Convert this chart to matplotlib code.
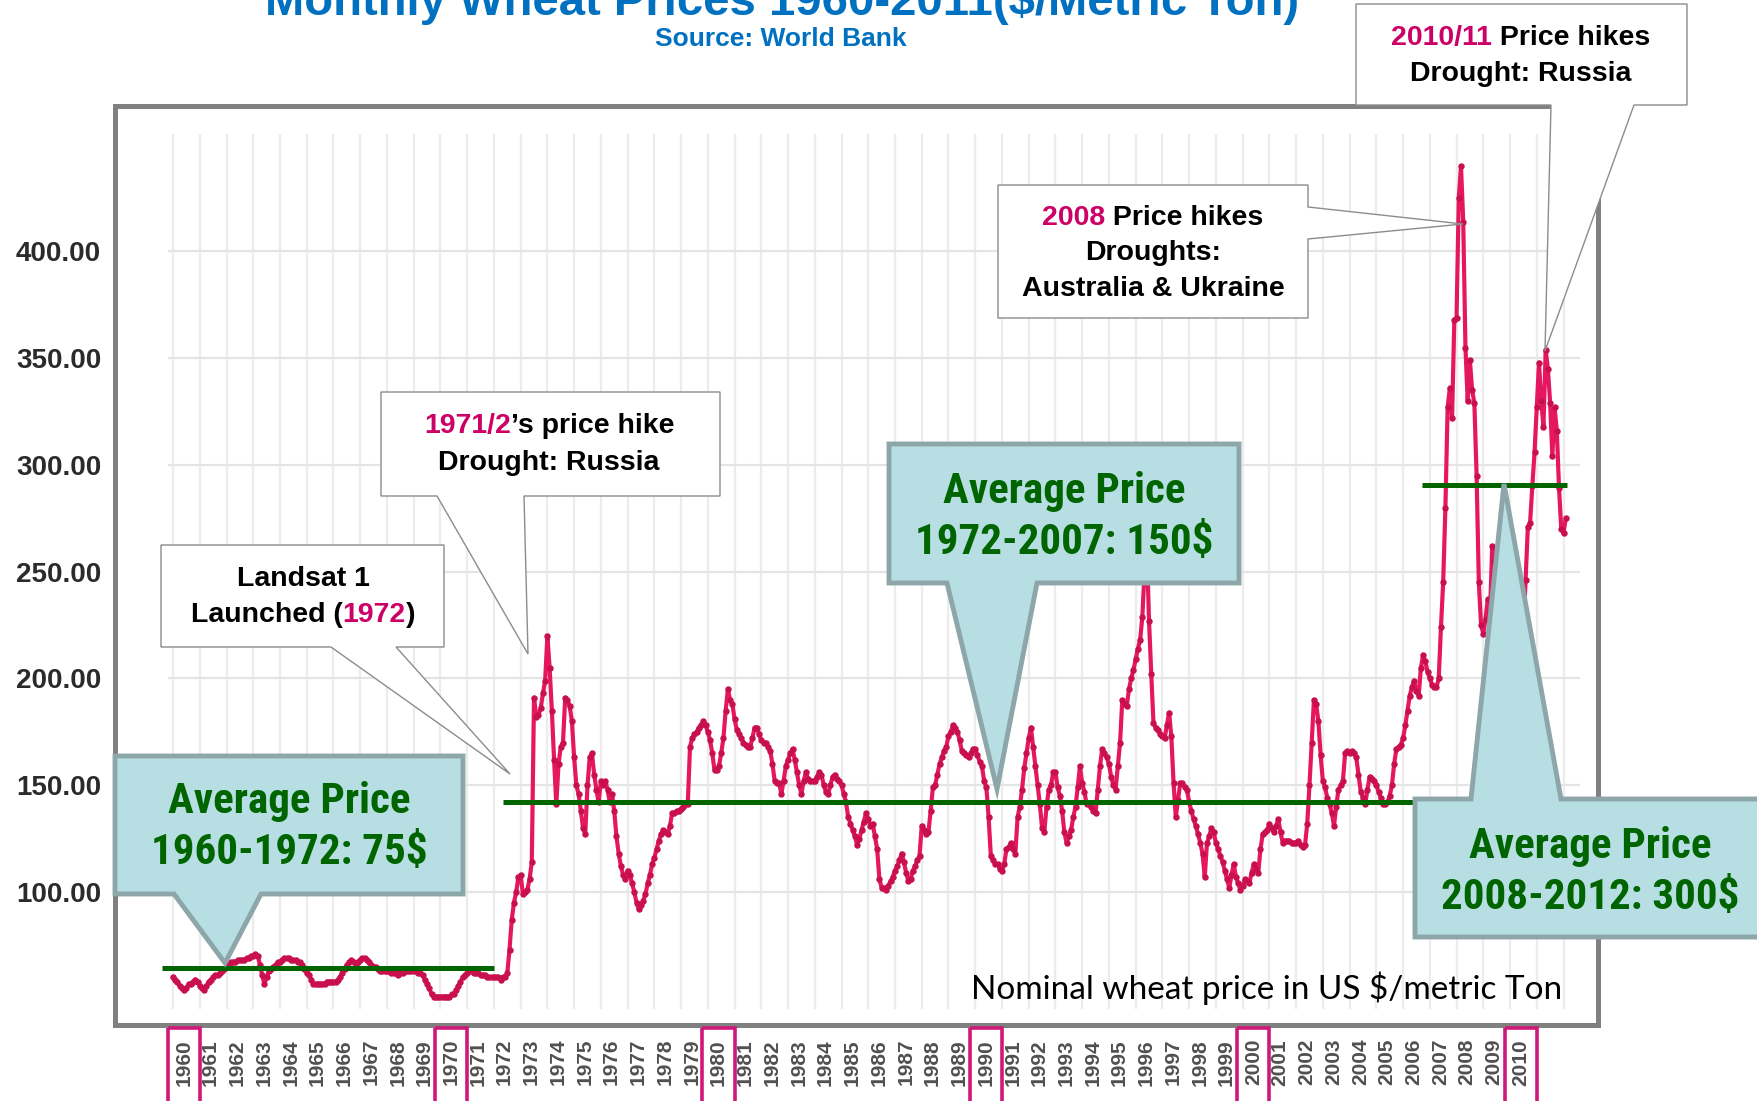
import numpy as np
import matplotlib
matplotlib.use("Agg")
import matplotlib.pyplot as plt
from matplotlib import font_manager
from matplotlib.font_manager import FontProperties
from matplotlib.patches import Polygon, Rectangle
from matplotlib.transforms import blended_transform_factory
from matplotlib.offsetbox import TextArea, HPacker, AnnotationBbox

plt.rcParams['font.family'] = ['Liberation Sans', 'DejaVu Sans']

W, H = 1758, 1101

# monthly nominal wheat price ($/t), Jan 1960 onwards, one row per year
prices = [
    60, 59, 58, 56, 55, 54, 55, 57, 57, 58, 59, 58,          # 1960
    56, 55, 54, 56, 58, 59, 60, 61, 61, 62, 63, 64,          # 1961
    65, 66, 67, 67, 67, 68, 68, 68, 68, 69, 69, 70,          # 1962
    70, 71, 70, 66, 61, 57, 60, 63, 64, 65, 66, 67,          # 1963
    67, 68, 69, 69, 69, 68, 68, 68, 67, 67, 66, 64,          # 1964
    62, 61, 59, 57, 57, 57, 57, 57, 57, 58, 58, 58,          # 1965
    58, 58, 59, 60, 62, 64, 66, 67, 68, 67, 66, 67,          # 1966
    68, 69, 69, 68, 67, 66, 65, 65, 64, 63, 63, 63,          # 1967
    63, 63, 62, 62, 62, 61, 62, 62, 63, 63, 63, 63,          # 1968
    63, 63, 62, 62, 61, 59, 57, 55, 52, 51, 51, 51,          # 1969
    51, 51, 51, 51, 51, 52, 52, 54, 56, 58, 60, 61,          # 1970
    62, 63, 63, 62, 62, 62, 61, 61, 61, 60, 60, 60,          # 1971
    60, 60, 60, 59, 60, 60, 62, 73, 87, 95, 100, 107,        # 1972
    108, 99, 100, 101, 106, 114, 191, 182, 183, 186, 193, 199,   # 1973
    220, 205, 185, 162, 141, 160, 168, 170, 191, 190, 187, 180,  # 1974
    163, 150, 146, 138, 130, 127, 150, 163, 165, 155, 148, 142,  # 1975
    152, 150, 152, 148, 142, 146, 138, 126, 118, 112, 108, 106,  # 1976
    110, 108, 104, 100, 95, 92, 94, 96, 99, 104, 108, 113,       # 1977
    116, 120, 124, 127, 129, 128, 127, 131, 137, 137, 138, 138,  # 1978
    139, 140, 141, 141, 168, 172, 174, 175, 177, 178, 180, 178,  # 1979
    175, 171, 165, 157, 157, 159, 165, 172, 185, 195, 190, 188,  # 1980
    181, 176, 174, 172, 170, 169, 168, 168, 172, 177, 177, 174,  # 1981
    171, 170, 170, 168, 166, 160, 152, 151, 151, 146, 152, 159,  # 1982
    162, 165, 167, 162, 156, 150, 146, 152, 156, 153, 152, 152,  # 1983
    152, 154, 156, 155, 150, 147, 146, 150, 154, 155, 153, 152,  # 1984
    150, 146, 142, 135, 132, 129, 126, 122, 125, 129, 133, 137,  # 1985
    134, 131, 132, 126, 120, 106, 102, 102, 101, 103, 105, 107,  # 1986
    110, 112, 115, 118, 114, 109, 105, 106, 110, 112, 115, 117,  # 1987
    131, 129, 127, 128, 138, 149, 150, 155, 160, 163, 166, 168,  # 1988
    173, 175, 178, 177, 175, 171, 166, 165, 164, 163, 165, 167,  # 1989
    167, 164, 161, 159, 152, 149, 135, 117, 115, 113, 113, 111,  # 1990
    110, 113, 120, 121, 123, 120, 118, 135, 140, 148, 158, 165,  # 1991
    172, 177, 168, 159, 150, 141, 130, 128, 140, 148, 150, 156,  # 1992
    156, 149, 145, 138, 128, 123, 126, 129, 135, 140, 149, 159,  # 1993
    151, 147, 141, 141, 140, 138, 137, 148, 159, 167, 165, 163,  # 1994
    160, 154, 150, 148, 159, 170, 190, 188, 187, 195, 200, 204,  # 1995
    209, 214, 218, 229, 251, 262, 227, 202, 179, 177, 176, 174,  # 1996
    173, 172, 178, 184, 173, 151, 135, 143, 151, 151, 149, 148,  # 1997
    142, 138, 134, 131, 127, 123, 118, 107, 123, 126, 130, 128,  # 1998
    123, 120, 117, 114, 110, 106, 102, 108, 113, 107, 104, 101,  # 1999
    103, 106, 105, 104, 109, 113, 111, 109, 120, 127, 128, 129,  # 2000
    132, 130, 128, 131, 134, 128, 123, 124, 124, 124, 123, 123,  # 2001
    123, 124, 122, 121, 122, 132, 150, 170, 190, 188, 180, 164,  # 2002
    152, 149, 144, 141, 137, 131, 140, 148, 150, 152, 165, 166,  # 2003
    165, 166, 165, 163, 155, 147, 144, 141, 148, 154, 153, 152,  # 2004
    150, 147, 144, 141, 141, 142, 145, 150, 160, 167, 168, 169,  # 2005
    172, 178, 185, 192, 196, 199, 194, 192, 205, 211, 208, 203,  # 2006
    200, 197, 196, 196, 200, 224, 245, 280, 327, 336, 322, 368,  # 2007
    369, 425, 440, 414, 355, 330, 349, 335, 329, 295, 245, 225,  # 2008
    221, 228, 237, 230, 262, 255, 240, 228, 220, 226, 232, 228,  # 2009
    220, 212, 210, 206, 205, 200, 222, 246, 271, 273, 290, 306,  # 2010
    327, 348, 330, 318, 354, 345, 329, 304, 327, 316, 289, 270,  # 2011
    268, 275,                                                    # 2012
]
first_year = 1960

# average-price lines
avg_start = [1959.6, 1972.35, 2006.7]
avg_end = [1972.0, 2007.0, 2012.12]
avg_level = [64.6, 142.0, 290.5]

label_years = list(range(1960, 2011))
boxed_years = [1960, 1970, 1980, 1990, 2000, 2010]
y_ticks = [100, 150, 200, 250, 300, 350, 400]

PINK = '#E5175F'
MAGENTA = '#CC0066'
GREEN = '#006400'
BLUE = '#0070C0'


def find_narrow_bold():
    # look for a narrow/condensed bold face, best match first
    prefs = ['LiberationSansNarrow-Bold', 'ArialNarrow', 'RobotoCondensed-Bold',
             'OpenSansCondensed-Bold', 'DejaVuSansCondensed-Bold', 'NotoSans-CondensedBold']
    files = [f.fname for f in font_manager.fontManager.ttflist]
    for p in prefs:
        for fn in files:
            if p.lower() in fn.lower().replace('_', '').replace(' ', ''):
                return p, fn
    return None, None


narrow_key, narrow = find_narrow_bold()
if narrow:
    size = 34 if narrow_key in ('LiberationSansNarrow-Bold', 'ArialNarrow') else 31
    avg_fp = FontProperties(fname=narrow, size=size)
else:
    avg_fp = FontProperties(family='Liberation Sans', weight='bold', size=28)

names = {f.name for f in font_manager.fontManager.ttflist}
note_font = 'Lato' if 'Lato' in names else 'DejaVu Sans'

fig = plt.figure(figsize=(W / 100, H / 100), dpi=100)
fig.patch.set_facecolor('white')

# main chart, frame at pixels x 115..1598, y 106..1025
ax = fig.add_axes([115 / W, 1 - 1025 / H, (1598 - 115) / W, (1025 - 106) / H])
ax.set_xlim(1957.83, 2013.29)
ax.set_ylim(37.7, 468.15)
for s in ax.spines.values():
    s.set_color('#808080')
    s.set_linewidth(3.6)

ax.vlines(np.arange(1960, 2013), 45, 455, color='#ECECEC', lw=1.6, zorder=1)
ax.hlines(y_ticks, 1959.8, 2012.6, color='#E4E4E4', lw=1.6, zorder=1)

t = first_year + np.arange(len(prices)) / 12.0
ax.plot(t, prices, color=PINK, lw=3, marker='o', ms=3.6, mfc='#C8104F', mec='#C8104F',
        solid_joinstyle='round', zorder=3)
ax.hlines(avg_level, avg_start, avg_end, color=GREEN, lw=3.6, zorder=4)

ax.set_yticks(y_ticks, ['%.2f' % v for v in y_ticks])
ax.set_xticks(np.array(label_years) + 0.4, [str(y) for y in label_years])
ax.tick_params(axis='y', length=0, pad=10, labelsize=20, labelcolor='#2B2B2B')
ax.tick_params(axis='x', length=0, pad=10, labelsize=15, labelcolor='#505050',
               labelrotation=90)
for lab in ax.get_yticklabels() + ax.get_xticklabels():
    lab.set_fontweight('bold')

trans = blended_transform_factory(ax.transData, ax.transAxes)
for y in boxed_years:
    ax.add_patch(Rectangle((y + 0.4 - 0.6, -0.003), 1.2, -0.2, transform=trans,
                           fill=False, ec='#D0177A', lw=2.6, clip_on=False, zorder=5))

ax.text(0.9755, 0.04, 'Nominal wheat price in US $/metric Ton', transform=ax.transAxes,
        ha='right', va='center', fontsize=24, family=note_font, color='black', zorder=6)

# overlay in pixel coordinates for the callouts
ov = fig.add_axes([0, 0, 1, 1], zorder=10)
ov.set_xlim(0, W)
ov.set_ylim(H, 0)
ov.axis('off')


def callout(x0, y0, x1, y1, side, b1, b2, tip, fc, ec, lw):
    if side == 'bottom':
        verts = [(x0, y0), (x1, y0), (x1, y1), (b2, y1), tip, (b1, y1), (x0, y1)]
    elif side == 'top':
        verts = [(x0, y0), (b1, y0), tip, (b2, y0), (x1, y0), (x1, y1), (x0, y1)]
    else:
        verts = [(x0, y0), (x1, y0), (x1, b1), tip, (x1, b2), (x1, y1), (x0, y1)]
    ov.add_patch(Polygon(verts, closed=True, fc=fc, ec=ec, lw=lw, joinstyle='miter', zorder=2))


def rich_line(x, y, parts, size=20.5):
    areas = [TextArea(s, textprops=dict(color=c, fontsize=size, fontweight='bold'))
             for s, c in parts]
    box = HPacker(children=areas, align='baseline', pad=0, sep=0)
    ab = AnnotationBbox(box, (x, y), xycoords='data', frameon=False,
                        box_alignment=(0.5, 0.5), pad=0, zorder=3)
    ov.add_artist(ab)


# white callouts
WF, WE = 'white', '#8C8C8C'
callout(161, 545, 444, 647, 'bottom', 331, 396, (510, 774), WF, WE, 1.0)
rich_line(303, 579, [('Landsat 1', 'black')])
rich_line(303, 615, [('Launched (', 'black'), ('1972', MAGENTA), (')', 'black')])

callout(381, 392, 720, 496, 'bottom', 437, 524, (528, 654), WF, WE, 1.0)
rich_line(549, 426, [('1971/2', MAGENTA), ('\u2019s price hike', 'black')])
rich_line(549, 463, [('Drought: Russia', 'black')])

callout(998, 185, 1308, 318, 'right', 207, 239, (1463, 224), WF, WE, 1.0)
rich_line(1153, 218, [('2008', MAGENTA), (' Price hikes', 'black')])
rich_line(1153, 253, [('Droughts:', 'black')])
rich_line(1153, 289, [('Australia & Ukraine', 'black')])

callout(1356, 4, 1687, 105, 'bottom', 1551, 1634, (1545, 351), WF, WE, 1.0)
rich_line(1521, 38, [('2010/11', MAGENTA), (' Price hikes', 'black')])
rich_line(1521, 74, [('Drought: Russia', 'black')])

# blue average-price callouts
BF, BE = '#B7DEE3', '#8CA6A9'
callout(115, 756, 463, 894, 'bottom', 174, 261, (225, 963), BF, BE, 3.5)
callout(889, 444, 1239, 583, 'bottom', 947, 1037, (997, 789), BF, BE, 3.5)
callout(1415, 799, 1768, 937, 'top', 1471, 1561, (1504, 484), BF, BE, 3.5)

avg_text = [
    (289, 827, 'Average Price\n1960-1972: 75$'),
    (1064, 517, 'Average Price\n1972-2007: 150$'),
    (1590, 872, 'Average Price\n2008-2012: 300$'),
]
for x, y, s in avg_text:
    ov.text(x, y, s, ha='center', va='center', ma='center', fontproperties=avg_fp,
            color=GREEN, linespacing=1.32, zorder=3)

fig.text(782 / W, 1 - 15 / H, 'Monthly Wheat Prices 1960-2011($/Metric Ton)',
         ha='center', va='baseline', fontsize=34, fontweight='bold', color=BLUE)
fig.text(781 / W, 1 - 39 / H, 'Source: World Bank', ha='center', va='center',
         fontsize=19, fontweight='bold', color=BLUE)

fig.savefig('out.png', dpi=100, facecolor='white')
